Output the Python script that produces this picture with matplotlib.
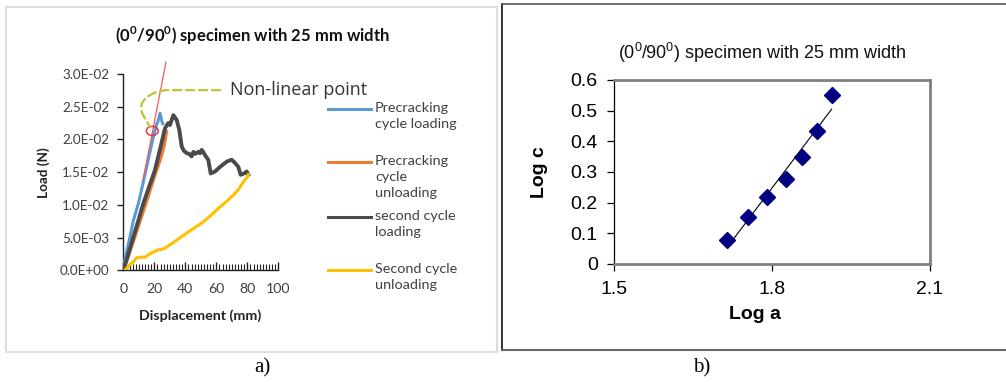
import numpy as np
import matplotlib
matplotlib.use("Agg")
import matplotlib.pyplot as plt
from matplotlib.patches import Rectangle, Ellipse
from matplotlib.lines import Line2D
from matplotlib.ticker import FuncFormatter, MultipleLocator

# ---- data, panel a) load vs displacement ----
pre_load_x = [0, 2, 4.3, 6.5, 9.7, 12.9, 16, 19.4, 21.5, 22.4, 23.7, 24.6, 25.4]
pre_load_y = [0.0005, 0.0027, 0.0051, 0.0076, 0.0102, 0.0135, 0.0168, 0.0204,
              0.0223, 0.0228, 0.0240, 0.0230, 0.0224]

pre_unload_x = [0, 3, 7.5, 11, 14.6, 18, 20.4, 22.6, 24.7, 26.5, 28]
pre_unload_y = [0, 0.0019, 0.0051, 0.0076, 0.0102, 0.0127, 0.0145, 0.0160,
                0.0175, 0.0192, 0.0212]

sec_load_x = [0, 3, 6.5, 9.7, 12.9, 16.1, 20.4, 24, 26.9, 29.0, 30.1, 32.3, 34.4,
              36.1, 37.7, 39, 40.9, 42.5, 44.1, 45.2, 46.5, 48.4, 49.5, 50.6, 51.8,
              52.7, 54.8, 56.4, 59.2, 62.4, 66.7, 69.9, 72.1, 74.2, 75.7, 77.9,
              79.6, 80.6]
sec_load_y = [0, 0.0023, 0.0051, 0.0076, 0.0102, 0.0124, 0.0153, 0.0188, 0.0217,
              0.0225, 0.0222, 0.0237, 0.0230, 0.0215, 0.0189, 0.0183, 0.0179,
              0.0178, 0.0174, 0.0181, 0.0178, 0.0181, 0.0179, 0.0184, 0.0180,
              0.0176, 0.0169, 0.0148, 0.0151, 0.0158, 0.0166, 0.0169, 0.0164,
              0.0158, 0.0146, 0.0148, 0.0151, 0.0146]

sec_unload_x = [1.1, 4, 6.5, 8.5, 10.8, 14, 17, 19.4, 22, 24.7, 27, 30.1, 35, 40.9,
                46, 51.6, 57, 62.4, 67, 71, 74.5, 77.4, 79.5, 80.6]
sec_unload_y = [0, 0.0008, 0.0013, 0.0019, 0.0020, 0.0020, 0.0025, 0.0028, 0.0031,
                0.0032, 0.0034, 0.0039, 0.0047, 0.0057, 0.0065, 0.0074, 0.0085,
                0.0097, 0.0106, 0.0115, 0.0124, 0.0135, 0.0141, 0.0146]

tangent_x = [12.8, 27.5]
tangent_y = [0.0138, 0.0318]
nonlinear_point = (18.7, 0.0213)

series_names = ["Precracking\ncycle loading", "Precracking\ncycle\nunloading",
                "second cycle\nloading", "Second cycle\nunloading"]
series_colors = ["#5b9bd5", "#ed7d31", "#4a4a4a", "#ffc000"]

# ---- data, panel b) log c vs log a ----
log_a = [1.715, 1.755, 1.791, 1.826, 1.857, 1.886, 1.913]
log_c = [0.078, 0.152, 0.220, 0.277, 0.350, 0.435, 0.551]

title = r"(0$^\mathregular{0}$/90$^\mathregular{0}$) specimen with 25 mm width"

W, H = 1006, 383
fig = plt.figure(figsize=(W / 100, H / 100), dpi=100)


def fx(px):
    return px / W


def fy(py):
    return 1 - py / H


# panel frames
fig.add_artist(Rectangle((fx(6), fy(352)), fx(491), 345 / H, transform=fig.transFigure,
                         fill=False, edgecolor="#dedede", lw=1.5))
fig.add_artist(Line2D([fx(501.5), fx(501.5)], [fy(4), fy(349.5)], color="#111111", lw=1.2))
fig.add_artist(Line2D([fx(501.5), 1], [fy(4), fy(4)], color="#555555", lw=1.2))
fig.add_artist(Line2D([fx(501.5), 1], [fy(349.5), fy(349.5)], color="#666666", lw=1.5))

# ---------------- panel a ----------------
lato = ["Lato", "DejaVu Sans"]
ax1 = fig.add_axes([fx(123.3), fy(270.3), 155 / W, 196.3 / H])
ax1.plot(pre_load_x, pre_load_y, color=series_colors[0], lw=2.2, zorder=3)
ax1.plot(pre_unload_x, pre_unload_y, color=series_colors[1], lw=2.2, zorder=3)
ax1.plot(sec_load_x, sec_load_y, color=series_colors[2], lw=2.8, zorder=4)
ax1.plot(sec_unload_x, sec_unload_y, color=series_colors[3], lw=2.2, zorder=4)
ax1.plot(tangent_x, tangent_y, color="#f05a5a", lw=0.9, zorder=5, clip_on=False)
ax1.add_patch(Ellipse(nonlinear_point, 7.7, 0.00138, fill=False,
                      edgecolor="#e0303c", lw=1.0, zorder=6))
# connector arms / radius are in pixels
ax1.annotate("Non-linear point", xy=nonlinear_point, xycoords="data",
             xytext=(0.688, 0.918), textcoords="axes fraction",
             ha="left", va="center", fontsize=13, family=["Open Sans", "DejaVu Sans"],
             color="#333333",
             arrowprops=dict(arrowstyle="-", color="#c4c43c", lw=1.7, ls=(0, (3.5, 2)),
                             relpos=(0, 0.5), shrinkA=5, shrinkB=4,
                             connectionstyle="arc,angleA=180,armA=74,angleB=120,"
                                             "armB=30,rad=12"),
             annotation_clip=False, zorder=6)

ax1.set_xlim(0, 100)
ax1.set_ylim(0, 0.03)
for s in ["top", "right"]:
    ax1.spines[s].set_visible(False)
for s in ["left", "bottom"]:
    ax1.spines[s].set_color("#222222")
    ax1.spines[s].set_linewidth(1.0)
ax1.set_yticks(np.arange(0, 0.0301, 0.005))
ax1.yaxis.set_major_formatter(FuncFormatter(lambda v, p: f"{v:.1E}"))
ax1.set_xticks(np.arange(0, 101, 20))
ax1.xaxis.set_minor_locator(MultipleLocator(2))
ax1.tick_params(axis="y", direction="out", length=4, width=1, pad=6,
                labelsize=9.7, labelcolor="#404040", color="#222222")
ax1.tick_params(axis="x", which="major", direction="in", length=6, width=1, pad=9,
                labelsize=10.2, labelcolor="#404040", color="#222222")
ax1.tick_params(axis="x", which="minor", direction="in", length=4, width=0.8,
                color="#222222")
for lab in ax1.get_xticklabels() + ax1.get_yticklabels():
    lab.set_family(lato)
ax1.set_ylabel("Load (N)", fontsize=9.7, fontweight="bold", family=lato, color="#222222")
ax1.yaxis.set_label_coords(-0.47, 0.5)
ax1.set_xlabel("Displacement (mm)", fontsize=10.3, fontweight="bold", family=lato,
               color="#222222", va="top")
ax1.xaxis.set_label_coords(0.495, -0.2)

fig.text(fx(252), fy(36), title, ha="center", va="center", fontsize=12,
         fontweight="bold", family=lato, color="#111111")

# manual legend, key line aligned with first text line
legend_y = [109, 162, 217, 270]
for name, col, ly in zip(series_names, series_colors, legend_y):
    fig.add_artist(Line2D([fx(328), fx(371)], [fy(ly), fy(ly)], color=col, lw=2.2))
    fig.text(fx(375), fy(ly - 7), name, ha="left", va="top", fontsize=10.4,
             family=lato, color="#404040", linespacing=1.38)

# ---------------- panel b ----------------
arial = ["Liberation Sans", "DejaVu Sans"]
ax2 = fig.add_axes([fx(614.3), fy(264), 315.7 / W, 184 / H])
fit = np.polyfit(log_a, log_c, 1)
fit_x = np.array([min(log_a), max(log_a)])
ax2.plot(fit_x, np.polyval(fit, fit_x), color="black", lw=0.8, zorder=2)
ax2.plot(log_a, log_c, "D", color="#000080", ms=8, zorder=3)
ax2.set_xlim(1.5, 2.1)
ax2.set_ylim(0, 0.6)
ax2.set_xticks([1.5, 1.8, 2.1])
ax2.set_yticks(np.arange(0, 0.61, 0.1))
ax2.yaxis.set_major_formatter(FuncFormatter(lambda v, p: f"{v:g}"))
for s in ax2.spines.values():
    s.set_color("#808080")
    s.set_linewidth(2)
ax2.spines["left"].set_color("#000000")
ax2.spines["left"].set_linewidth(0.9)
ax2.tick_params(direction="out", length=5, width=0.9, color="black", labelsize=14,
                pad=7)
for lab in ax2.get_xticklabels() + ax2.get_yticklabels():
    lab.set_family(arial)
ax2.set_ylabel("Log c", fontsize=14, fontweight="bold", family=arial)
ax2.yaxis.set_label_coords(-0.21, 0.5)
ax2.set_xlabel("Log a", fontsize=14, fontweight="bold", family=arial, va="top")
ax2.xaxis.set_label_coords(0.445, -0.23)
fig.text(fx(762), fy(53), title, ha="center", va="center", fontsize=13,
         family=arial, color="#111111")

# captions
fig.text(fx(262), fy(368), "a)", ha="center", va="center", fontsize=15,
         family=["Liberation Serif", "DejaVu Serif"])
fig.text(fx(702), fy(368), "b)", ha="center", va="center", fontsize=15,
         family=["Liberation Serif", "DejaVu Serif"])

fig.savefig("out.png", dpi=100)
